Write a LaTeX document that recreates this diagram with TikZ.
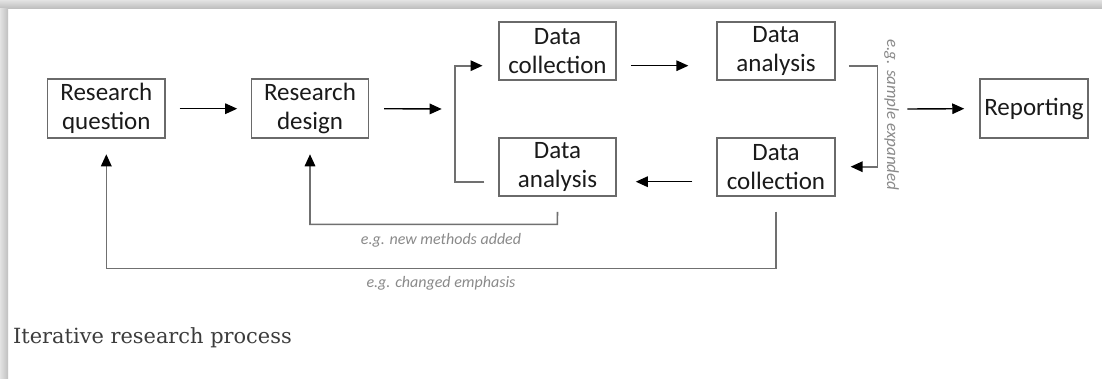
\documentclass[tikz,border=0pt]{standalone}
\usepackage{fontspec}
\usetikzlibrary{arrows.meta}
\newfontfamily\boxfont{Carlito}
\newfontfamily\capfont{DejaVu Serif}
\definecolor{boxline}{HTML}{6A6A6A}
\definecolor{fbline}{HTML}{707070}
\definecolor{lbl}{HTML}{8A8A8A}
\definecolor{txt}{HTML}{1A1A1A}
\tikzset{
  stepbox/.style={draw=boxline, line width=1.5pt, inner sep=0pt, align=center,
    text=txt, font=\boxfont\fontsize{25}{29}\selectfont},
  arr/.style={line width=1.4pt, draw=black, -{Triangle[length=12pt,width=10.5pt]}},
  fb/.style={line width=1.6pt, draw=fbline, -{Triangle[length=12pt,width=10.5pt,color=black]}},
  note/.style={text=lbl, font=\boxfont\itshape\fontsize{16}{18}\selectfont, inner sep=0pt},
}
\begin{document}
\begin{tikzpicture}[x=1pt,y=-1pt]
\useasboundingbox (0,0) rectangle (1102,378);
\fill[white] (0,0) rectangle (1102,378);
% frame shadow
\shade[top color=gray!22, bottom color=gray!50] (0,0) rectangle (1102,8);
\shade[left color=gray!22, right color=gray!50] (0,8) rectangle (8,378);

% boxes
\node[stepbox, minimum width=117.3pt, minimum height=59pt] (rq) at (106.3,108.7) {Research\\question};
\node[stepbox, minimum width=116.7pt, minimum height=59pt] (rd) at (310,108.7) {Research\\design};
\node[stepbox, minimum width=117pt, minimum height=58.3pt] (dc1) at (557.5,51) {Data\\collection};
\node[stepbox, minimum width=117.7pt, minimum height=58.3pt] (da1) at (776,51) {Data\\analysis};
\node[stepbox, minimum width=117pt, minimum height=58.3pt] (da2) at (557.5,167) {Data\\analysis};
\node[stepbox, minimum width=117.7pt, minimum height=58.3pt] (dc2) at (776,167) {Data\\collection};
\node[stepbox, minimum width=108pt, minimum height=59pt] (rep) at (1034,108.7) {Reporting};

% helper coordinates
\coordinate (lbrk) at (455,109);
\coordinate (rbrk) at (877.3,109);

% forward arrows
\draw[arr] ([shift={(14,0)}]rq.east) -- ([shift={(-13.7,0)}]rd.west);
\draw[arr] ([shift={(15,0)}]rd.east) -- ([shift={(-13.3,0)}]lbrk);
\draw[arr] ([shift={(14,14.7)}]dc1.east) -- ([shift={(-28,14.7)}]da1.west);
\draw[arr] ([shift={(-24,14.7)}]dc2.west) -- ([shift={(19,14.7)}]da2.east);
\draw[arr] ([shift={(30,0)}]rbrk) -- ([shift={(-15,0)}]rep.west);

% left bracket
\draw[fb] ([shift={(-14,14.7)}]da2.west) -| (lbrk) |- ([shift={(-15.7,14.7)}]dc1.west);
% right bracket
\draw[fb] ([shift={(13.3,14.7)}]da1.east) -| (rbrk) |- ([shift={(15,-0.3)}]dc2.east);
\node[note, rotate=-90, font=\boxfont\itshape\fontsize{17}{18}\selectfont] (lsample) at (891.5,115) {e.g. sample expanded};

% feedback loops
\coordinate (fb1) at (557.3,224.3);
\coordinate (fb2) at (776,268.3);
\draw[fb] ([shift={(0,15)}]da2.south) -- (fb1) -| ([shift={(0,15.3)}]rd.south);
\draw[fb] ([shift={(0,14.7)}]dc2.south) -- (fb2) -| ([shift={(0,15.3)}]rq.south);
\node[note] (lnew) at (441,240) {e.g. new methods added};
\node[note] (lchg) at (441,283.3) {e.g. changed emphasis};

% caption
\node[anchor=base west, inner sep=0pt, text=txt!85!white, font=\capfont\fontsize{20.9}{24}\selectfont] (cap) at (13,343) {Iterative research process};
\end{tikzpicture}
\end{document}
